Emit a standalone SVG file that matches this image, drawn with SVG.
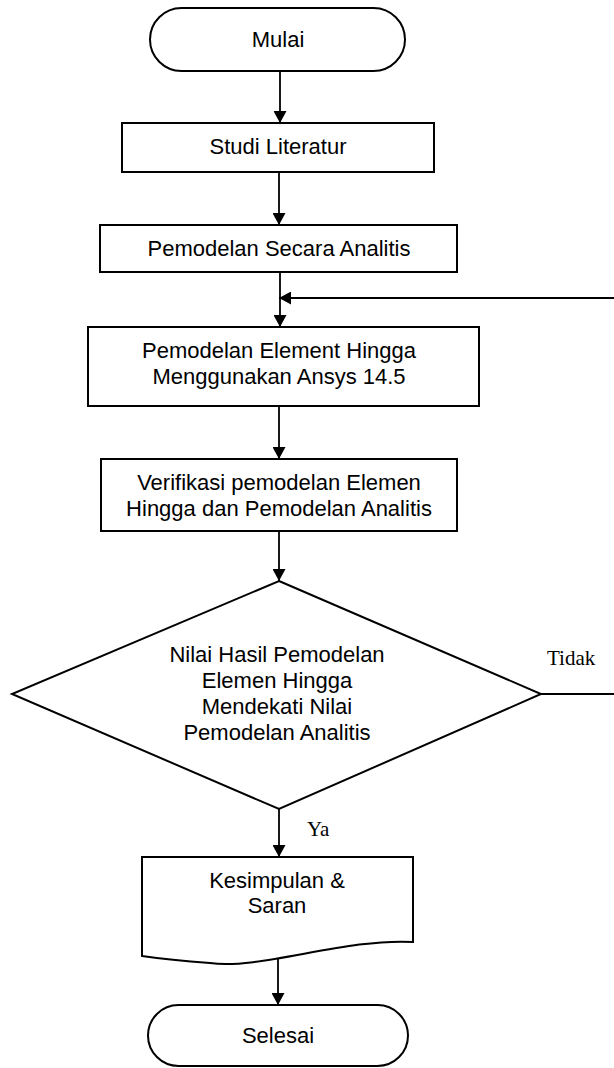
<svg xmlns="http://www.w3.org/2000/svg" width="614" height="1068" viewBox="0 0 614 1068">
<defs>
<marker id="arr" markerWidth="12" markerHeight="13" refX="12" refY="6.5" orient="auto" markerUnits="userSpaceOnUse">
<path d="M0,0 L12,6.5 L0,13 Z" fill="#000"/>
</marker>
<style>
.shape{fill:#fff;stroke:#000;stroke-width:2}
.lbl{font-family:"Liberation Sans",Arial,sans-serif;font-size:22px;fill:#000;text-anchor:middle}
.yt{font-family:"Liberation Serif","Times New Roman",serif;font-size:21px;fill:#000}
.conn{fill:none;stroke:#000;stroke-width:1.8}
</style>
</defs>
<rect width="614" height="1068" fill="#fff"/>
<g id="connectors">
<line class="conn" x1="280" y1="71" x2="280" y2="123" marker-end="url(#arr)"/>
<line class="conn" x1="279" y1="172" x2="279" y2="225" marker-end="url(#arr)"/>
<line class="conn" x1="280" y1="272" x2="280" y2="327" marker-end="url(#arr)"/>
<line class="conn" x1="620" y1="298" x2="279" y2="298" marker-end="url(#arr)"/>
<line class="conn" x1="279" y1="406" x2="279" y2="459" marker-end="url(#arr)"/>
<line class="conn" x1="279" y1="531" x2="279" y2="581" marker-end="url(#arr)"/>
<line class="conn" x1="541" y1="694" x2="620" y2="694"/>
<text class="yt" x="547" y="665">Tidak</text>
<line class="conn" x1="279" y1="809" x2="279" y2="857" marker-end="url(#arr)"/>
<text class="yt" x="307" y="836">Ya</text>
<line class="conn" x1="278" y1="957" x2="278" y2="1005" marker-end="url(#arr)"/>
</g>
<g id="mulai">
<rect class="shape" x="150" y="8" width="255" height="63" rx="31.5" ry="31.5"/>
<text class="lbl" x="278" y="47">Mulai</text>
</g>
<g id="studi">
<rect class="shape" x="122" y="123" width="312" height="49"/>
<text class="lbl" x="278" y="154">Studi Literatur</text>
</g>
<g id="analitis">
<rect class="shape" x="100" y="225" width="357" height="47"/>
<text class="lbl" x="279" y="256">Pemodelan Secara Analitis</text>
</g>
<g id="elemen">
<rect class="shape" x="88" y="327" width="391" height="79"/>
<text class="lbl" x="279" y="358">Pemodelan Element Hingga</text>
<text class="lbl" x="279" y="384">Menggunakan Ansys 14.5</text>
</g>
<g id="verifikasi">
<rect class="shape" x="101" y="459" width="356" height="72"/>
<text class="lbl" x="279" y="490">Verifikasi pemodelan Elemen</text>
<text class="lbl" x="279" y="516">Hingga dan Pemodelan Analitis</text>
</g>
<g id="keputusan">
<polygon class="shape" points="279,581 541,694 279,809 12,694"/>
<text class="lbl" x="277" y="662">Nilai Hasil Pemodelan</text>
<text class="lbl" x="277" y="688">Elemen Hingga</text>
<text class="lbl" x="277" y="714">Mendekati Nilai</text>
<text class="lbl" x="277" y="740">Pemodelan Analitis</text>
</g>
<g id="kesimpulan">
<path class="shape" d="M142,857 H413 V942 C345,938 260,970 210,963 Q170,960 142,956 Z"/>
<text class="lbl" x="277" y="888">Kesimpulan &amp;</text>
<text class="lbl" x="277" y="913">Saran</text>
</g>
<g id="selesai">
<rect class="shape" x="148" y="1005" width="260" height="61" rx="30.5" ry="30.5"/>
<text class="lbl" x="278" y="1043">Selesai</text>
</g>
</svg>
